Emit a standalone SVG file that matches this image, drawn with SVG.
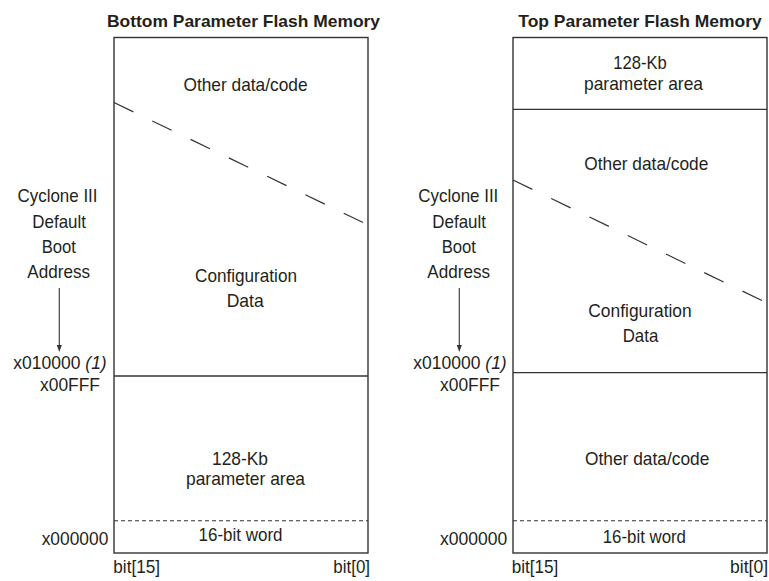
<svg xmlns="http://www.w3.org/2000/svg" width="769" height="581" viewBox="0 0 769 581">
<defs>
<style>
.t{font-family:"Liberation Sans",Arial,sans-serif;font-size:18.5px;fill:#231f20;}
.a{font-family:"Liberation Sans",Arial,sans-serif;font-size:17.5px;fill:#231f20;}
.i{font-style:italic;}
.h{font-family:"Liberation Sans",Arial,sans-serif;font-size:16.5px;font-weight:bold;fill:#231f20;}
.box{fill:#fff;stroke:#333;stroke-width:1.4;}
.div{stroke:#333;stroke-width:1.3;fill:none;}
.dot{stroke:#333;stroke-width:1.1;stroke-dasharray:4 3;fill:none;}
.dash{stroke:#333;stroke-width:1.2;stroke-dasharray:21.5 21;fill:none;}
.arr{stroke:#333;stroke-width:1.1;fill:none;}
</style>
</defs>
<rect width="769" height="581" fill="#fff"/>

<g id="left-memory">
  <text class="h" x="107" y="27" textLength="273" lengthAdjust="spacingAndGlyphs">Bottom Parameter Flash Memory</text>
  <rect class="box" x="114" y="37.5" width="254" height="515.5"/>
  <g id="left-other">
    <text class="t" x="183.5" y="91" textLength="124" lengthAdjust="spacingAndGlyphs">Other data/code</text>
  </g>
  <line class="dash" x1="114" y1="102.5" x2="364" y2="223"/>
  <g id="left-config">
    <text class="t" x="195" y="282" textLength="102" lengthAdjust="spacingAndGlyphs">Configuration</text>
    <text class="t" x="226.7" y="306.5" textLength="37" lengthAdjust="spacingAndGlyphs">Data</text>
  </g>
  <line class="div" x1="114" y1="376" x2="368" y2="376"/>
  <g id="left-param">
    <text class="t" x="212" y="465" textLength="56" lengthAdjust="spacingAndGlyphs">128-Kb</text>
    <text class="t" x="186" y="485" textLength="119" lengthAdjust="spacingAndGlyphs">parameter area</text>
  </g>
  <line class="dot" x1="114" y1="520.7" x2="368" y2="520.7"/>
  <g id="left-word">
    <text class="t" x="198.5" y="540.5" textLength="84" lengthAdjust="spacingAndGlyphs">16-bit word</text>
  </g>
  <g id="left-labels">
    <text class="t" x="17.5" y="201.7" textLength="80" lengthAdjust="spacingAndGlyphs">Cyclone III</text>
    <text class="t" x="32.3" y="228" textLength="53.7" lengthAdjust="spacingAndGlyphs">Default</text>
    <text class="t" x="41.7" y="253" textLength="34.3" lengthAdjust="spacingAndGlyphs">Boot</text>
    <text class="t" x="27.3" y="278" textLength="62.7" lengthAdjust="spacingAndGlyphs">Address</text>
    <text class="a" x="13.3" y="369.3">x010000 <tspan class="i">(1)</tspan></text>
    <text class="t" x="40" y="391" textLength="60" lengthAdjust="spacingAndGlyphs">x00FFF</text>
    <text class="t" x="41.7" y="545" textLength="66.6" lengthAdjust="spacingAndGlyphs">x000000</text>
    <text class="t" x="113.3" y="573" textLength="46.7" lengthAdjust="spacingAndGlyphs">bit[15]</text>
    <text class="t" x="333.3" y="573" textLength="36.7" lengthAdjust="spacingAndGlyphs">bit[0]</text>
  </g>
</g>

<g id="right-memory">
  <text class="h" x="518.3" y="27" textLength="243.4" lengthAdjust="spacingAndGlyphs">Top Parameter Flash Memory</text>
  <rect class="box" x="513" y="37.5" width="254" height="515.5"/>
  <g id="right-param">
    <text class="t" x="613.3" y="68.5" textLength="53.4" lengthAdjust="spacingAndGlyphs">128-Kb</text>
    <text class="t" x="584" y="90" textLength="119" lengthAdjust="spacingAndGlyphs">parameter area</text>
  </g>
  <line class="div" x1="513" y1="109.3" x2="767" y2="109.3"/>
  <g id="right-other-top">
    <text class="t" x="584.3" y="170" textLength="124" lengthAdjust="spacingAndGlyphs">Other data/code</text>
  </g>
  <line class="dash" x1="513" y1="180" x2="765" y2="302"/>
  <g id="right-config">
    <text class="t" x="588.3" y="317" textLength="103.4" lengthAdjust="spacingAndGlyphs">Configuration</text>
    <text class="t" x="622.7" y="342" textLength="35.6" lengthAdjust="spacingAndGlyphs">Data</text>
  </g>
  <line class="div" x1="513" y1="372.7" x2="767" y2="372.7"/>
  <g id="right-other-bottom">
    <text class="t" x="585" y="465" textLength="124.3" lengthAdjust="spacingAndGlyphs">Other data/code</text>
  </g>
  <line class="dot" x1="513" y1="520.7" x2="767" y2="520.7"/>
  <g id="right-word">
    <text class="t" x="602.7" y="543" textLength="83.3" lengthAdjust="spacingAndGlyphs">16-bit word</text>
  </g>
  <g id="right-labels">
    <text class="t" x="418.3" y="201.7" textLength="80" lengthAdjust="spacingAndGlyphs">Cyclone III</text>
    <text class="t" x="432.3" y="228" textLength="53.7" lengthAdjust="spacingAndGlyphs">Default</text>
    <text class="t" x="441.7" y="253" textLength="34.3" lengthAdjust="spacingAndGlyphs">Boot</text>
    <text class="t" x="427.3" y="278" textLength="62.7" lengthAdjust="spacingAndGlyphs">Address</text>
    <text class="a" x="413.3" y="369.3">x010000 <tspan class="i">(1)</tspan></text>
    <text class="t" x="440" y="391" textLength="60" lengthAdjust="spacingAndGlyphs">x00FFF</text>
    <text class="t" x="440" y="545" textLength="67.3" lengthAdjust="spacingAndGlyphs">x000000</text>
    <text class="t" x="511.7" y="573" textLength="46.6" lengthAdjust="spacingAndGlyphs">bit[15]</text>
    <text class="t" x="730" y="573" textLength="38" lengthAdjust="spacingAndGlyphs">bit[0]</text>
  </g>
</g>

<g id="connectors">
  <line class="arr" x1="59.3" y1="288" x2="59.3" y2="346"/>
  <polygon points="56.8,345 61.8,345 59.3,352" fill="#333"/>
  <line class="arr" x1="459.3" y1="288" x2="459.3" y2="346"/>
  <polygon points="456.8,345 461.8,345 459.3,352" fill="#333"/>
</g>
</svg>
